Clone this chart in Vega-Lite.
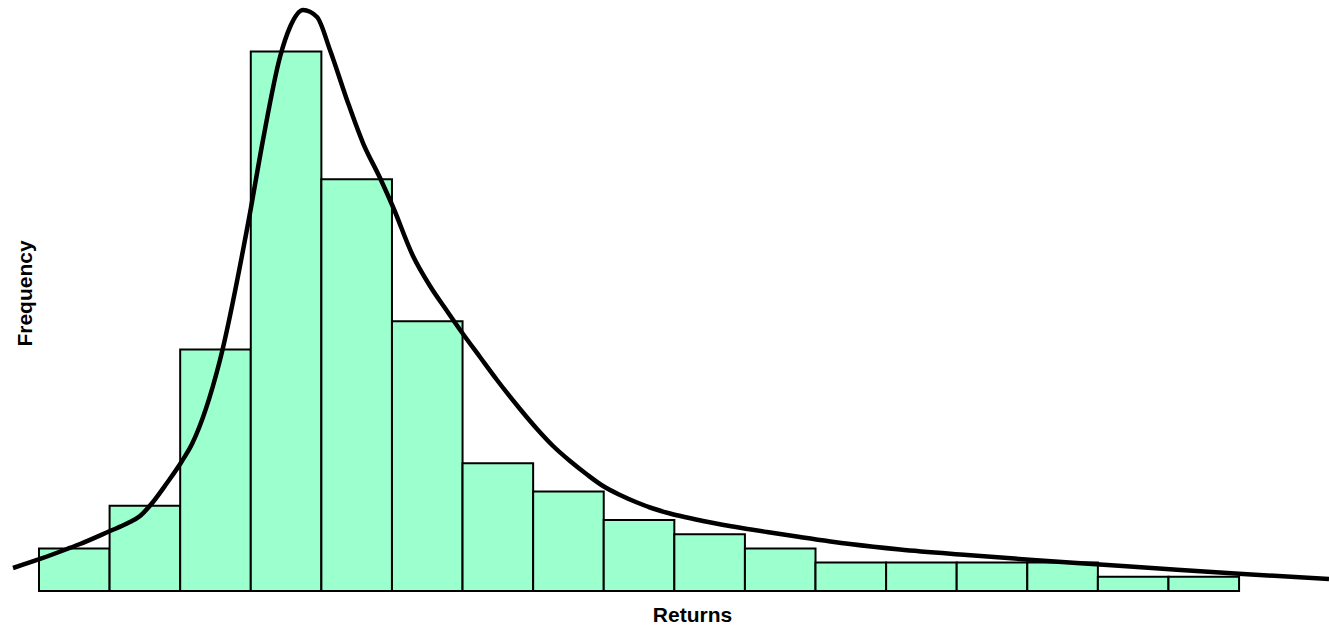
{
  "$schema": "https://vega.github.io/schema/vega-lite/v6.json",
  "width": 1329,
  "height": 627,
  "autosize": "none",
  "padding": 0,
  "background": "white",
  "config": {"view": {"stroke": null}},
  "datasets": {
    "bins": [
      {"lo": 0, "hi": 1, "count": 3},
      {"lo": 1, "hi": 2, "count": 6},
      {"lo": 2, "hi": 3, "count": 17},
      {"lo": 3, "hi": 4, "count": 38},
      {"lo": 4, "hi": 5, "count": 29},
      {"lo": 5, "hi": 6, "count": 19},
      {"lo": 6, "hi": 7, "count": 9},
      {"lo": 7, "hi": 8, "count": 7},
      {"lo": 8, "hi": 9, "count": 5},
      {"lo": 9, "hi": 10, "count": 4},
      {"lo": 10, "hi": 11, "count": 3},
      {"lo": 11, "hi": 12, "count": 2},
      {"lo": 12, "hi": 13, "count": 2},
      {"lo": 13, "hi": 14, "count": 2},
      {"lo": 14, "hi": 15, "count": 2},
      {"lo": 15, "hi": 16, "count": 1},
      {"lo": 16, "hi": 17, "count": 1}
    ],
    "density": [
      {"x": -0.368, "y": 1.620},
      {"x": 0.014, "y": 2.254},
      {"x": 0.397, "y": 2.958},
      {"x": 0.581, "y": 3.310},
      {"x": 1.006, "y": 4.225},
      {"x": 1.247, "y": 4.754},
      {"x": 1.431, "y": 5.282},
      {"x": 1.615, "y": 6.268},
      {"x": 1.813, "y": 7.606},
      {"x": 2.026, "y": 9.155},
      {"x": 2.167, "y": 10.352},
      {"x": 2.564, "y": 16.268},
      {"x": 2.989, "y": 26.620},
      {"x": 3.173, "y": 31.761},
      {"x": 3.414, "y": 37.606},
      {"x": 3.556, "y": 39.718},
      {"x": 3.740, "y": 40.915},
      {"x": 3.938, "y": 40.423},
      {"x": 4.122, "y": 38.099},
      {"x": 4.363, "y": 34.577},
      {"x": 4.590, "y": 31.549},
      {"x": 4.831, "y": 29.085},
      {"x": 5.015, "y": 27.042},
      {"x": 5.298, "y": 23.592},
      {"x": 5.539, "y": 21.479},
      {"x": 5.780, "y": 19.718},
      {"x": 6.007, "y": 18.099},
      {"x": 6.247, "y": 16.479},
      {"x": 6.488, "y": 14.859},
      {"x": 6.814, "y": 12.817},
      {"x": 7.055, "y": 11.408},
      {"x": 7.282, "y": 10.211},
      {"x": 7.522, "y": 9.155},
      {"x": 7.763, "y": 8.204},
      {"x": 7.990, "y": 7.394},
      {"x": 8.231, "y": 6.761},
      {"x": 8.472, "y": 6.232},
      {"x": 8.699, "y": 5.810},
      {"x": 8.939, "y": 5.458},
      {"x": 9.180, "y": 5.176},
      {"x": 9.406, "y": 4.930},
      {"x": 9.831, "y": 4.542},
      {"x": 10.313, "y": 4.155},
      {"x": 10.781, "y": 3.803},
      {"x": 11.489, "y": 3.310},
      {"x": 12.197, "y": 2.923},
      {"x": 13.146, "y": 2.535},
      {"x": 14.081, "y": 2.183},
      {"x": 15.030, "y": 1.866},
      {"x": 16.121, "y": 1.493},
      {"x": 17.056, "y": 1.197},
      {"x": 18.274, "y": 0.845}
    ]
  },
  "layer": [
    {
      "data": {"name": "bins"},
      "mark": {"type": "rect", "fill": "#9CFFCE", "stroke": "black", "strokeWidth": 2},
      "encoding": {
        "x": {
          "field": "lo", "type": "quantitative",
          "scale": {"domain": [-0.5525, 18.274], "nice": false, "zero": false},
          "axis": {"title": "Returns", "labels": false, "ticks": false, "domain": false, "grid": false,
                   "titleFont": "Liberation Sans", "titleFontSize": 21, "titleFontWeight": "bold", "titleColor": "black",
                   "titleX": 692, "titleY": -12, "titleAlign": "center", "titleBaseline": "middle", "titleAnchor": null}
        },
        "x2": {"field": "hi"},
        "y": {
          "field": "count", "type": "quantitative",
          "scale": {"domain": [-2.535, 41.62], "nice": false, "zero": false},
          "axis": {"title": "Frequency", "labels": false, "ticks": false, "domain": false, "grid": false,
                   "titleFont": "Liberation Sans", "titleFontSize": 21, "titleFontWeight": "bold", "titleColor": "black",
                   "titleX": 25, "titleY": 293, "titleAngle": -90, "titleAlign": "center", "titleBaseline": "middle", "titleAnchor": null}
        },
        "y2": {"datum": 0}
      }
    },
    {
      "data": {"name": "density"},
      "mark": {"type": "line", "color": "black", "strokeWidth": 4.5, "interpolate": "monotone", "clip": false},
      "encoding": {
        "x": {"field": "x", "type": "quantitative"},
        "y": {"field": "y", "type": "quantitative"}
      }
    }
  ]
}
